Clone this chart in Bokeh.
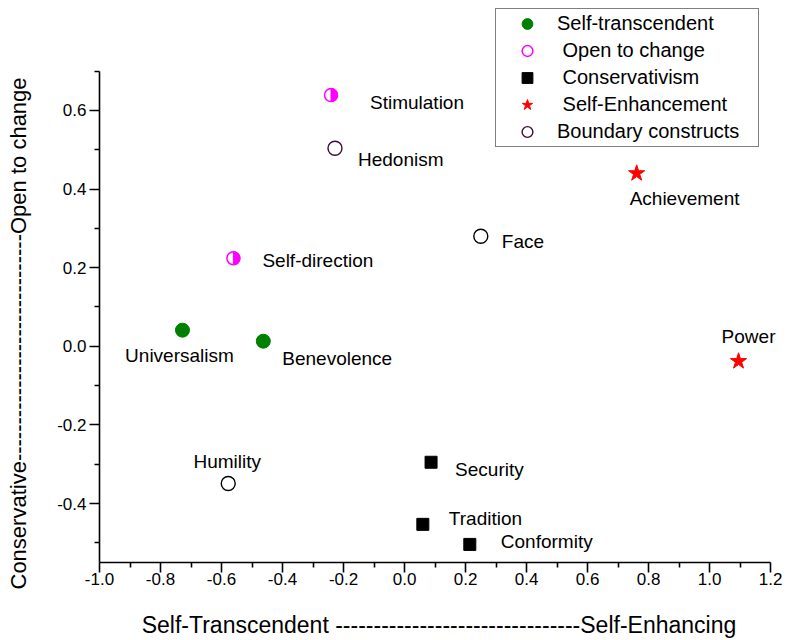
import math
from bokeh.plotting import figure
from bokeh.models import (ColumnDataSource, Range1d, FixedTicker, Legend, LegendItem,
                          Title, PrintfTickFormatter)
from bokeh.core.properties import value
from bokeh.embed import file_html
from bokeh.resources import INLINE

# ---------------- data ----------------
st_names = ["Universalism", "Benevolence"]
st_x = [-0.728, -0.463]
st_y = [0.041, 0.013]

oc_names = ["Self-direction", "Stimulation"]
oc_x = [-0.561, -0.241]
oc_y = [0.224, 0.639]

cv_names = ["Security", "Tradition", "Conformity"]
cv_x = [0.087, 0.060, 0.214]
cv_y = [-0.295, -0.453, -0.504]

se_names = ["Achievement", "Power"]
se_x = [0.761, 1.095]
se_y = [0.440, -0.038]

bc_names = ["Hedonism", "Face", "Humility"]
bc_x = [-0.228, 0.250, -0.578]
bc_y = [0.504, 0.280, -0.349]

legend_labels = ["Self-transcendent", "\u00a0Open to change", "\u00a0Conservativism",
                 "\u00a0Self-Enhancement", "Boundary constructs"]

x_major = [-1.0, -0.8, -0.6, -0.4, -0.2, 0.0, 0.2, 0.4, 0.6, 0.8, 1.0, 1.2]
x_minor = [-0.9, -0.7, -0.5, -0.3, -0.1, 0.1, 0.3, 0.5, 0.7, 0.9, 1.1]
y_major = [-0.4, -0.2, 0.0, 0.2, 0.4, 0.6]
y_minor = [-0.5, -0.3, -0.1, 0.1, 0.3, 0.5, 0.7]

x_title = "Self-Transcendent " + "-" * 32 + "Self-Enhancing"
y_title = "Conservative" + "-" * 31 + "Open to change"

# ---------------- label layout (screen offsets, px) ----------------
label_layout = {
    "Universalism": ("center", -3, 25),
    "Benevolence": ("left", 19, 17),
    "Self-direction": ("left", 29, 2),
    "Stimulation": ("left", 39, 7),
    "Hedonism": ("left", 23, 11),
    "Face": ("left", 21, 5),
    "Achievement": ("left", -7, 25),
    "Power": ("center", 10, -25),
    "Humility": ("center", -1, -22),
    "Security": ("left", 24, 7),
    "Tradition": ("left", 26, -6),
    "Conformity": ("left", 31, -3),
}

FONT = "Liberation Sans"

p = figure(frame_width=679, frame_height=557,
           min_border_left=120, min_border_right=8, min_border_top=5, min_border_bottom=74,
           x_range=Range1d(-1.0, 1.226), y_range=Range1d(-0.550, 0.867),
           output_backend="svg", toolbar_location=None, tools="",
           margin=(0, 0, 0, -21))
p.grid.visible = False
p.outline_line_color = None
p.background_fill_color = "white"
p.border_fill_color = "white"

# axes
for ax in (p.xaxis[0], p.yaxis[0]):
    ax.axis_line_width = 1.6
    ax.major_tick_line_width = 1.6
    ax.minor_tick_line_width = 1.6
    ax.major_tick_in = 0
    ax.major_tick_out = 10
    ax.minor_tick_in = 0
    ax.minor_tick_out = 5
    ax.axis_line_color = "black"
    ax.major_tick_line_color = "black"
    ax.minor_tick_line_color = "black"
    ax.major_label_text_color = "black"
    ax.axis_label_text_color = "black"
    ax.formatter = PrintfTickFormatter(format="%.1f")

p.xaxis.ticker = FixedTicker(ticks=x_major, minor_ticks=x_minor)
p.yaxis.ticker = FixedTicker(ticks=y_major, minor_ticks=y_minor)
p.xaxis.bounds = (-1.0, 1.2)
p.yaxis.bounds = (-0.55, 0.70)
p.xaxis.major_label_text_font = FONT
p.xaxis.major_label_text_font_size = "17px"
p.xaxis.major_label_standoff = 0
p.yaxis.major_label_text_font = FONT
p.yaxis.major_label_text_font_size = "17px"
p.yaxis.major_label_standoff = 3

p.xaxis.axis_label = x_title
p.xaxis.axis_label_text_font = FONT
p.xaxis.axis_label_text_font_size = "23px"
p.xaxis.axis_label_text_font_style = "normal"
p.xaxis.axis_label_standoff = 24

p.add_layout(Title(text=y_title, align="left", offset=-27, vertical_align="middle",
                   standoff=46, text_font=FONT, text_font_size="22px",
                   text_font_style="normal", text_color="black"), "left")

# ---------------- glyphs ----------------
def src(names, xs, ys):
    return ColumnDataSource(dict(name=names, x=xs, y=ys))

s_st = src(st_names, st_x, st_y)
s_oc = src(oc_names, oc_x, oc_y)
s_cv = src(cv_names, cv_x, cv_y)
s_se = src(se_names, se_x, se_y)
s_bc = src(bc_names, bc_x, bc_y)

r_st = p.scatter("x", "y", source=s_st, marker="circle", size=14,
                 fill_color="#008000", line_color="#008000")
r_oc = p.scatter("x", "y", source=s_oc, marker="circle", size=13,
                 fill_color="white", line_color="#FF00FF", line_width=1.5)
p.wedge("x", "y", source=s_oc, radius=6.5, radius_units="screen",
        start_angle=-math.pi / 2, end_angle=math.pi / 2,
        fill_color="#FF00FF", line_color="#FF00FF", line_width=1)
r_cv = p.scatter("x", "y", source=s_cv, marker="square", size=12,
                 fill_color="black", line_color="black")
r_se = p.scatter("x", "y", source=s_se, marker="star", size=17,
                 fill_color="#FF0000", line_color="#FF0000")
bc_line = ["#3a0a3a", "black", "black"]
s_bc.data["lc"] = bc_line
r_bc = p.scatter("x", "y", source=s_bc, marker="circle", size=14,
                 fill_color="white", line_color="lc", line_width=1.4)

# point labels
all_names = st_names + oc_names + cv_names + se_names + bc_names
all_x = st_x + oc_x + cv_x + se_x + bc_x
all_y = st_y + oc_y + cv_y + se_y + bc_y
lab = ColumnDataSource(dict(
    x=all_x, y=all_y, text=all_names,
    align=[label_layout[n][0] for n in all_names],
    dx=[label_layout[n][1] for n in all_names],
    dy=[label_layout[n][2] for n in all_names],
))
p.text("x", "y", text="text", source=lab, x_offset="dx", y_offset="dy",
       text_align="align", text_baseline="middle",
       text_font=value(FONT), text_font_size="19px", text_color="black")

# ---------------- legend ----------------
legend = Legend(items=[
    LegendItem(label=legend_labels[0], renderers=[r_st]),
    LegendItem(label=legend_labels[1], renderers=[r_oc]),
    LegendItem(label=legend_labels[2], renderers=[r_cv]),
    LegendItem(label=legend_labels[3], renderers=[r_se]),
    LegendItem(label=legend_labels[4], renderers=[r_bc]),
], location=(396, 415))
legend.glyph_width = 60
legend.glyph_height = 27
legend.padding = 1
legend.spacing = 0
legend.label_standoff = 0
legend.label_width = 200
legend.label_text_font = FONT
legend.label_text_font_size = "20px"
legend.label_text_color = "black"
legend.border_line_color = "black"
legend.border_line_width = 1
legend.background_fill_color = "white"
legend.background_fill_alpha = 1
legend.margin = 0
p.add_layout(legend, "center")

open("out.html", "w").write(file_html(p, INLINE))
